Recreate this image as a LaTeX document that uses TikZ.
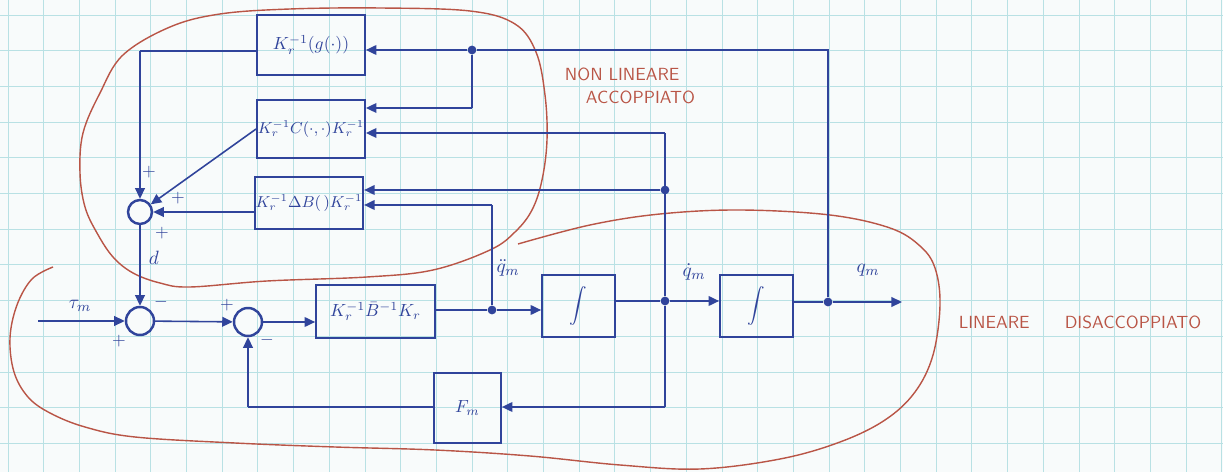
\documentclass[tikz,border=0pt]{standalone}
\usetikzlibrary{arrows.meta,calc}
\definecolor{ink}{RGB}{48,68,155}
\definecolor{redink}{RGB}{185,85,70}
\definecolor{gridc}{RGB}{185,225,228}
\definecolor{paper}{RGB}{248,251,251}
\tikzset{
  wire/.style={draw=ink,line width=0.9pt},
  arr/.style={wire,-{Triangle[length=6pt,width=5.5pt]}},
  blk/.style={draw=ink,line width=1pt,text=ink,inner sep=0.5pt,font=\fontsize{10}{12}\selectfont},
  blksmall/.style={blk,font=\fontsize{8.6}{10}\selectfont},
  sumnode/.style={draw=ink,circle,line width=1.4pt,inner sep=0pt},
  dot/.style={circle,fill=ink,inner sep=0pt,minimum size=5pt},
  lbl/.style={text=ink,font=\fontsize{11}{13}\selectfont,inner sep=1pt},
  sgn/.style={text=ink,font=\fontsize{10}{12}\selectfont,inner sep=0pt},
  region/.style={draw=redink,line width=0.8pt},
  note/.style={text=redink,font=\sffamily\fontsize{10}{12}\selectfont,inner sep=1pt,align=left}
}
\begin{document}
\begin{tikzpicture}[x=0.02cm,y=-0.02cm]
\fill[paper] (0,0) rectangle (1223,472);
\useasboundingbox (0,0) rectangle (1223,472);
\foreach \i in {0,...,34} \draw[gridc,line width=0.5pt] ({8+35.7*\i},0) -- ({8+35.7*\i},472);
\foreach \j in {0,...,13} \draw[gridc,line width=0.5pt] (0,{15+35.7*\j}) -- (1223,{15+35.7*\j});

% red regions
\draw[region] plot[smooth cycle,tension=0.6] coordinates {
 (123,55) (100,93) (83,133) (80,173) (85,207) (97,233) (113,257) (133,273) (160,283) (190,287)
 (267,281) (367,277) (433,270) (490,250) (515,232) (532,210) (542,180) (547,140) (545,95)
 (536,52) (515,24) (470,11) (380,8) (290,9) (220,14) (170,27)};
\draw[region] plot[smooth,tension=0.6] coordinates {
 (53,267) (32,279) (17,305) (10,338) (14,372) (28,397) (50,413) (85,427) (135,437) (235,443)
 (335,447) (435,450) (530,456) (620,465) (700,469) (780,459) (840,442) (885,420) (915,392)
 (933,355) (940,305) (935,268) (920,246) (890,228) (830,215) (740,210) (660,214) (590,225) (518,244)};

% blocks
\node[blk,minimum width=2.16cm,minimum height=1.2cm] (blkG) at (311,45) {$K_r^{-1}(g(\cdot))$};
\node[blksmall,minimum width=2.16cm,minimum height=1.16cm] (blkC) at (311,129) {$K_r^{-1}C(\cdot,\cdot)K_r^{-1}$};
\node[blksmall,minimum width=2.16cm,minimum height=1.04cm] (blkB) at (309,203) {$K_r^{-1}\Delta B(\,)K_r^{-1}$};
\node[blk,minimum width=2.38cm,minimum height=1.06cm] (blkK) at (375.5,311.5) {$K_r^{-1}\bar{B}^{-1}K_r$};
\node[blk,minimum width=1.46cm,minimum height=1.24cm,font=\Large] (int1) at (578.5,306) {$\displaystyle\int$};
\node[blk,minimum width=1.46cm,minimum height=1.24cm,font=\Large] (int2) at (756.5,306) {$\displaystyle\int$};
\node[blk,minimum width=1.34cm,minimum height=1.4cm] (Fm) at (467.5,408) {$F_m$};

% summing junctions
\node[sumnode,minimum size=0.48cm] (S1) at (140,212) {};
\node[sumnode,minimum size=0.56cm] (S2) at (140,321) {};
\node[sumnode,minimum size=0.56cm] (S3) at (248,322) {};

% junctions and corners
\node[dot] (jq) at (828,302) {};
\node[dot] (j1) at (472,50) {};
\node[dot] (jB) at (665,190) {};
\node[dot] (jqd) at (665,301) {};
\node[dot] (jqdd) at (492,310) {};
\coordinate (qend) at (902,302);
\coordinate (cTop) at (828,50);
\coordinate (cC1) at (472,108);
\coordinate (cQd) at (665,133);
\coordinate (cF) at (665,407);
\coordinate (cB2) at (492,205);
\coordinate (cG) at (140,51);
\coordinate (cFm) at (248,407);
\coordinate (in) at (38,321);

% connectors
\draw[wire] (int2.east |- jq) -- (jq);
\draw[arr] (jq) -- (qend);
\draw[wire] (jq) -- (cTop) -- (j1);
\draw[arr] (j1) -- (j1 -| blkG.east);
\draw[wire] (j1) -- (cC1);
\draw[arr] (cC1) -- (cC1 -| blkC.east);
\draw[wire] (int1.east |- jqd) -- (jqd);
\draw[arr] (jqd) -- (jqd -| int2.west);
\draw[wire] (jqd) -- (cQd);
\draw[arr] (cQd) -- (cQd -| blkC.east);
\draw[arr] (jB) -- (jB -| blkB.east);
\draw[wire] (jqd) -- (cF);
\draw[arr] (cF) -- (cF -| Fm.east);
\draw[wire] (blkK.east |- jqdd) -- (jqdd);
\draw[arr] (jqdd) -- (jqdd -| int1.west);
\draw[wire] (jqdd) -- (cB2);
\draw[arr] (cB2) -- (cB2 -| blkB.east);
\draw[wire] (blkG.west |- cG) -- (cG);
\draw[arr] (cG) -- (S1);
\draw[arr] (blkC.west) -- (S1);
\draw[arr] (blkB.west |- S1) -- (S1);
\draw[arr] (S1) -- (S2);
\draw[arr] (in) -- (S2);
\draw[arr] (S2) -- (S3);
\draw[arr] (S3) -- (S3 -| blkK.west);
\draw[wire] (Fm.west |- cF) -- (cFm);
\draw[arr] (cFm) -- (S3);

% signal labels
\node[lbl] (ltau) at (80,306) {$\tau_m$};
\node[lbl] (ld) at (154,258) {$d$};
\node[lbl] (lqdd) at (508,268) {$\ddot q_m$};
\node[lbl] (lqd) at (694,272) {$\dot q_m$};
\node[lbl] (lq) at (868,270) {$q_m$};

% signs
\node[sgn] (p1) at (149,172) {$+$};
\node[sgn] (p2) at (178,198) {$+$};
\node[sgn] (p3) at (162,233) {$+$};
\node[sgn] (m1) at (161,302) {$-$};
\node[sgn] (p4) at (119,341) {$+$};
\node[sgn] (p5) at (227,305) {$+$};
\node[sgn] (m2) at (267,340) {$-$};

% region notes
\node[note] (n1) at (630,86) {NON LINEARE\\[1pt]\hspace*{1.2em}ACCOPPIATO};
\node[note] (n2) at (1080,322) {LINEARE\hspace{2em}DISACCOPPIATO};
\end{tikzpicture}
\end{document}
